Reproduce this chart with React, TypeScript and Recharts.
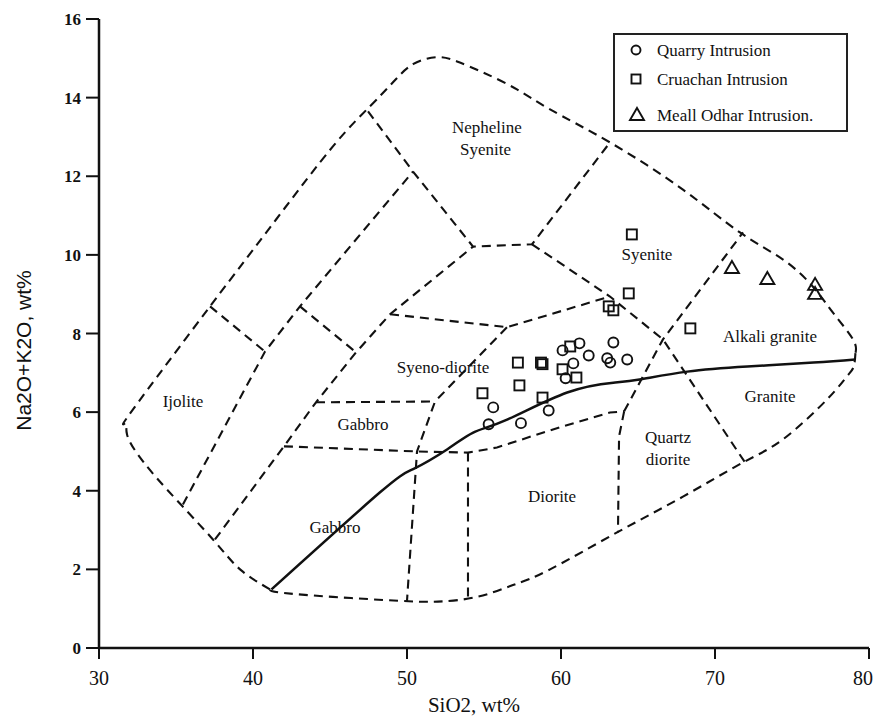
import React from 'react';
import { ComposedChart, XAxis, YAxis, Line, Scatter, Legend, Label } from 'recharts';

const xTicks = [30, 40, 50, 60, 70, 80];
const yTicks = [0, 2, 4, 6, 8, 10, 12, 14, 16];

// sample points (SiO2, Na2O+K2O)
const quarry = [
  { x: 55.6, y: 6.12 }, { x: 55.3, y: 5.69 }, { x: 57.4, y: 5.72 }, { x: 59.2, y: 6.04 },
  { x: 60.3, y: 6.86 }, { x: 60.8, y: 7.24 }, { x: 60.1, y: 7.57 }, { x: 61.2, y: 7.75 },
  { x: 61.8, y: 7.44 }, { x: 63.0, y: 7.37 }, { x: 63.2, y: 7.26 }, { x: 64.3, y: 7.34 },
  { x: 63.4, y: 7.77 },
];

const cruachan = [
  { x: 54.9, y: 6.48 }, { x: 57.2, y: 7.26 }, { x: 58.7, y: 7.26 }, { x: 58.8, y: 7.22 },
  { x: 57.3, y: 6.68 }, { x: 58.8, y: 6.37 }, { x: 60.6, y: 7.67 }, { x: 60.1, y: 7.09 },
  { x: 61.0, y: 6.88 }, { x: 63.1, y: 8.69 }, { x: 63.4, y: 8.59 }, { x: 64.4, y: 9.02 },
  { x: 64.6, y: 10.52 }, { x: 68.4, y: 8.13 },
];

const meallOdhar = [
  { x: 71.1, y: 9.68 }, { x: 73.4, y: 9.4 }, { x: 76.5, y: 9.25 }, { x: 76.5, y: 9.02 },
];

// alkaline / subalkaline divide
const alkalineLine = [
  { x: 41.2, y: 1.49 }, { x: 48.25, y: 3.96 }, { x: 50.4, y: 4.55 }, { x: 52.6, y: 5.05 },
  { x: 54.3, y: 5.48 }, { x: 56.5, y: 5.81 }, { x: 60.4, y: 6.5 }, { x: 63.4, y: 6.75 },
  { x: 65.1, y: 6.83 }, { x: 68.2, y: 7.03 }, { x: 72.1, y: 7.16 }, { x: 76.4, y: 7.26 },
  { x: 79.1, y: 7.34 },
];

const outerUpper = [
  { x: 41.1, y: 1.49 }, { x: 39.16, y: 2.0 }, { x: 37.4, y: 2.76 }, { x: 34.42, y: 4.03 },
  { x: 32.66, y: 4.85 }, { x: 31.82, y: 5.43 }, { x: 31.72, y: 5.72 }, { x: 32.21, y: 6.07 },
  { x: 37.21, y: 8.69 }, { x: 41.5, y: 10.9 }, { x: 45.19, y: 12.76 }, { x: 47.6, y: 13.78 },
  { x: 49.09, y: 14.39 }, { x: 50.39, y: 14.85 }, { x: 51.95, y: 15.03 }, { x: 53.25, y: 14.92 },
  { x: 54.94, y: 14.64 }, { x: 57.14, y: 14.21 }, { x: 59.29, y: 13.7 }, { x: 63.18, y: 12.86 },
  { x: 67.92, y: 11.66 }, { x: 71.62, y: 10.57 }, { x: 74.42, y: 9.88 }, { x: 76.36, y: 9.19 },
  { x: 77.66, y: 8.53 }, { x: 78.96, y: 7.85 }, { x: 79.12, y: 7.5 },
];

const outerLower = [
  { x: 79.12, y: 7.5 }, { x: 79.0, y: 7.15 }, { x: 78.57, y: 6.91 }, { x: 77.27, y: 6.32 },
  { x: 74.42, y: 5.31 }, { x: 71.82, y: 4.72 }, { x: 67.92, y: 3.85 }, { x: 63.64, y: 2.94 },
  { x: 59.29, y: 2.0 }, { x: 56.88, y: 1.6 }, { x: 54.55, y: 1.3 }, { x: 52.0, y: 1.18 },
  { x: 49.5, y: 1.2 }, { x: 45.19, y: 1.3 }, { x: 41.75, y: 1.41 }, { x: 41.1, y: 1.49 },
];

// internal field boundaries
const fieldLines = [
  [{ x: 37.21, y: 8.69 }, { x: 40.78, y: 7.54 }],
  [{ x: 35.45, y: 3.65 }, { x: 40.78, y: 7.54 }, { x: 43.05, y: 8.69 }, { x: 50.39, y: 12.12 }],
  [{ x: 43.05, y: 8.69 }, { x: 46.69, y: 7.52 }],
  [{ x: 37.53, y: 2.76 }, { x: 42.01, y: 5.13 }, { x: 44.09, y: 6.25 }, { x: 46.69, y: 7.52 }, { x: 48.9, y: 8.49 }, { x: 54.29, y: 10.21 }],
  [{ x: 47.47, y: 13.65 }, { x: 50.39, y: 12.12 }, { x: 54.29, y: 10.21 }, { x: 58.12, y: 10.27 }, { x: 63.18, y: 12.86 }],
  [{ x: 58.12, y: 10.27 }, { x: 63.18, y: 8.94 }, { x: 66.62, y: 7.85 }, { x: 71.95, y: 4.72 }],
  [{ x: 48.9, y: 8.49 }, { x: 56.49, y: 8.16 }, { x: 63.18, y: 8.94 }],
  [{ x: 56.49, y: 8.16 }, { x: 51.82, y: 6.27 }, { x: 50.65, y: 5.0 }, { x: 50.0, y: 1.2 }],
  [{ x: 44.09, y: 6.25 }, { x: 51.82, y: 6.27 }],
  [{ x: 42.01, y: 5.13 }, { x: 50.65, y: 5.0 }, { x: 53.96, y: 4.97 }, { x: 55.84, y: 5.1 }, { x: 59.48, y: 5.56 }, { x: 63.18, y: 5.99 }, { x: 64.1, y: 6.02 }],
  [{ x: 53.96, y: 4.97 }, { x: 53.96, y: 1.25 }],
  [{ x: 64.1, y: 6.02 }, { x: 63.77, y: 5.38 }, { x: 63.7, y: 2.94 }],
  [{ x: 64.1, y: 6.02 }, { x: 66.62, y: 7.85 }, { x: 71.82, y: 10.57 }],
];

const fieldLabels = [
  { x: 55.19, y: 13.24, text: 'Nepheline' },
  { x: 55.1, y: 12.68, text: 'Syenite' },
  { x: 65.58, y: 10.01, text: 'Syenite' },
  { x: 73.57, y: 7.93, text: 'Alkali granite' },
  { x: 73.57, y: 6.4, text: 'Granite' },
  { x: 66.95, y: 5.36, text: 'Quartz' },
  { x: 66.95, y: 4.8, text: 'diorite' },
  { x: 59.42, y: 3.86, text: 'Diorite' },
  { x: 45.32, y: 3.07, text: 'Gabbro' },
  { x: 47.14, y: 5.69, text: 'Gabbro' },
  { x: 52.34, y: 7.14, text: 'Syeno-diorite' },
  { x: 35.45, y: 6.27, text: 'Ijolite' },
];

const legendItems = ['Quarry Intrusion', 'Cruachan Intrusion', 'Meall Odhar Intrusion.'];

const SERIF = "'Liberation Serif', 'Times New Roman', serif";
const INK = '#111';
const DASH = '9 6';

const CircleMark = (p: any) => (
  <circle cx={p.cx} cy={p.cy} r={5} fill="none" stroke={INK} strokeWidth={1.9} />
);
const SquareMark = (p: any) => (
  <rect x={p.cx - 5} y={p.cy - 5} width={10} height={10} fill="none" stroke={INK} strokeWidth={1.9} />
);
const TriangleMark = (p: any) => (
  <path
    d={`M${p.cx},${p.cy - 6.5} L${p.cx + 7},${p.cy + 5.5} L${p.cx - 7},${p.cy + 5.5} Z`}
    fill="none" stroke={INK} strokeWidth={1.9}
  />
);
const TextMark = (p: any) => (
  <text x={p.cx} y={p.cy} textAnchor="middle" dominantBaseline="central"
    fontFamily={SERIF} fontSize={17} fill={INK}>
    {p.payload?.text}
  </text>
);

const renderLegend = () => {
  const rows = [17, 46, 82];
  return (
    <svg width={235} height={99}>
      <rect x={1} y={1} width={233} height={97} fill="#fff" stroke="#222" strokeWidth={2} />
      <circle cx={23} cy={rows[0]} r={4.5} fill="none" stroke={INK} strokeWidth={1.9} />
      <rect x={18.5} y={rows[1] - 4.5} width={9} height={9} fill="none" stroke={INK} strokeWidth={1.9} />
      <path d={`M24,${rows[2] - 7} L31,${rows[2] + 5} L17,${rows[2] + 5} Z`} fill="none" stroke={INK} strokeWidth={1.9} />
      {legendItems.map((name, i) => (
        <text key={name} x={44} y={rows[i]} dominantBaseline="central" fontFamily={SERIF} fontSize={17} fill={INK}>
          {name}
        </text>
      ))}
    </svg>
  );
};

export default function App() {
  return (
    <ComposedChart width={865} height={712} margin={{ top: 11, right: 4, left: 31, bottom: 0 }}>
      <XAxis
        dataKey="x" type="number" domain={[30, 80]} ticks={xTicks} allowDataOverflow
        height={72} tickSize={11} tickMargin={12}
        axisLine={{ stroke: INK, strokeWidth: 2.5 }} tickLine={{ stroke: INK, strokeWidth: 2 }}
        tick={{ fontFamily: SERIF, fontSize: 20, fill: INK }}
      >
        <Label
          content={(props: any) => {
            const vb = props.viewBox;
            return (
              <text x={vb.x + vb.width / 2 - 10} y={vb.y + 57} textAnchor="middle" dominantBaseline="central"
                fontFamily={SERIF} fontSize={21} fill={INK}>
                SiO2, wt%
              </text>
            );
          }}
        />
      </XAxis>
      <YAxis
        dataKey="y" type="number" domain={[0, 16]} ticks={yTicks} allowDataOverflow
        width={60} tickSize={13} tickMargin={5}
        axisLine={{ stroke: INK, strokeWidth: 2.5 }} tickLine={{ stroke: INK, strokeWidth: 2 }}
        tick={{ fontFamily: SERIF, fontSize: 17, fontWeight: 700, fill: INK }}
      >
        <Label
          content={(props: any) => {
            const vb = props.viewBox;
            const cx = vb.x - 16;
            const cy = vb.y + vb.height / 2 + 17;
            return (
              <text x={cx} y={cy} transform={`rotate(-90 ${cx} ${cy})`} textAnchor="middle" dominantBaseline="central"
                fontFamily="'Liberation Sans', Arial, sans-serif" fontSize={21} fill={INK}>
                Na2O+K2O, wt%
              </text>
            );
          }}
        />
      </YAxis>
      <XAxis xAxisId="top" orientation="top" type="number" domain={[30, 80]} height={0}
        tick={false} tickLine={false} axisLine={{ stroke: '#444', strokeWidth: 2 }} />
      <YAxis yAxisId="right" orientation="right" type="number" domain={[0, 16]} width={0}
        tick={false} tickLine={false} axisLine={{ stroke: INK, strokeWidth: 2.5 }} />

      <Legend
        layout="horizontal" verticalAlign="middle" align="center" content={renderLegend}
        wrapperStyle={{ position: 'absolute', left: 605, top: 25, width: 235, height: 99 }}
      />

      <Line data={outerUpper} dataKey="y" type="natural" stroke={INK} strokeWidth={2.1} strokeDasharray={DASH}
        dot={false} activeDot={false} isAnimationActive={false} />
      <Line data={outerLower} dataKey="y" type="natural" stroke={INK} strokeWidth={2.1} strokeDasharray={DASH}
        dot={false} activeDot={false} isAnimationActive={false} />
      {fieldLines.map((seg, i) => (
        <Line key={`f${i}`} data={seg} dataKey="y" type="linear" stroke={INK} strokeWidth={2.1}
          strokeDasharray={DASH} dot={false} activeDot={false} isAnimationActive={false} />
      ))}
      <Line data={alkalineLine} dataKey="y" type="natural" stroke={INK} strokeWidth={2.5}
        dot={false} activeDot={false} isAnimationActive={false} />

      <Scatter data={fieldLabels} shape={TextMark} isAnimationActive={false} />
      <Scatter data={quarry} shape={CircleMark} isAnimationActive={false} />
      <Scatter data={cruachan} shape={SquareMark} isAnimationActive={false} />
      <Scatter data={meallOdhar} shape={TriangleMark} isAnimationActive={false} />
    </ComposedChart>
  );
}
